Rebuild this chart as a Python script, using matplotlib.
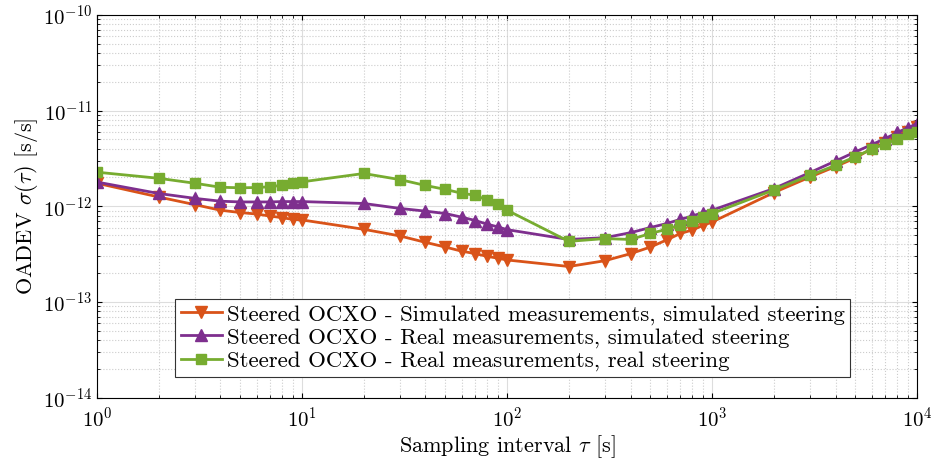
import matplotlib
matplotlib.use("Agg")
import matplotlib.pyplot as plt
import numpy as np

plt.rcParams['font.family'] = ['cmr10', 'DejaVu Serif']
plt.rcParams['mathtext.fontset'] = 'cm'
plt.rcParams['axes.unicode_minus'] = False

tau = [1, 2, 3, 4, 5, 6, 7, 8, 9, 10,
       20, 30, 40, 50, 60, 70, 80, 90, 100,
       200, 300, 400, 500, 600, 700, 800, 900, 1000,
       2000, 3000, 4000, 5000, 6000, 7000, 8000, 9000, 10000]

# values in units of 1e-12
sim_sim = [1.74, 1.25, 1.04, 0.91, 0.86, 0.83, 0.79, 0.76, 0.73, 0.72,
           0.575, 0.49, 0.42, 0.375, 0.34, 0.32, 0.30, 0.287, 0.275,
           0.235, 0.27, 0.32, 0.375, 0.445, 0.52, 0.565, 0.63, 0.685,
           1.39, 2.02, 2.6, 3.2, 4.0, 4.6, 5.3, 6.0, 6.7]
real_sim = [1.79, 1.36, 1.21, 1.13, 1.11, 1.11, 1.11, 1.12, 1.12, 1.12,
            1.07, 0.95, 0.89, 0.84, 0.77, 0.71, 0.65, 0.61, 0.57,
            0.45, 0.47, 0.53, 0.60, 0.66, 0.73, 0.79, 0.86, 0.91,
            1.53, 2.25, 2.97, 3.7, 4.4, 5.1, 5.9, 6.6, 7.3]
real_real = [2.27, 1.96, 1.74, 1.58, 1.56, 1.57, 1.60, 1.66, 1.73, 1.80,
             2.2, 1.9, 1.65, 1.5, 1.37, 1.3, 1.16, 1.05, 0.91,
             0.43, 0.46, 0.45, 0.52, 0.575, 0.64, 0.70, 0.78, 0.84,
             1.48, 2.1, 2.68, 3.3, 3.94, 4.5, 5.0, 5.65, 6.0]

labels = ['Steered OCXO - Simulated measurements, simulated steering',
          'Steered OCXO - Real measurements, simulated steering',
          'Steered OCXO - Real measurements, real steering']

fig = plt.figure(figsize=(9.33, 4.62), dpi=100)
ax = fig.add_axes([0.104, 0.139, 0.879, 0.829])

t = np.array(tau)
ax.loglog(t, np.array(sim_sim) * 1e-12, '-v', color='#D95319', lw=2, ms=8.5, label=labels[0])
ax.loglog(t, np.array(real_sim) * 1e-12, '-^', color='#7E2F8E', lw=2, ms=8.5, label=labels[1])
ax.loglog(t, np.array(real_real) * 1e-12, '-s', color='#77AC30', lw=2, ms=7.5, label=labels[2])

ax.set_xlim(1, 1e4)
ax.set_ylim(1e-14, 1e-10)
ax.grid(True, which='major', color='#dddddd', lw=0.8)
ax.grid(True, which='minor', color='#cccccc', ls=':', lw=0.8)
ax.tick_params(which='both', direction='in', top=True, right=True, labelsize=15)
ax.tick_params(axis='x', pad=6)
for s in ax.spines.values():
    s.set_linewidth(0.8)

ax.set_xlabel(r'Sampling interval $\tau$ [s]', fontsize=16, labelpad=2)
ax.set_ylabel(r'OADEV $\sigma(\tau)$ [s/s]', fontsize=16, labelpad=2)

leg = ax.legend(loc='lower left', bbox_to_anchor=(0.095, 0.055), fontsize=16.5,
                fancybox=False, edgecolor='#333333', framealpha=1,
                handlelength=1.8, handletextpad=0.2, borderpad=0.25, labelspacing=0.12,
                borderaxespad=0)
leg.get_frame().set_linewidth(0.8)

fig.savefig('out.png', dpi=100)
